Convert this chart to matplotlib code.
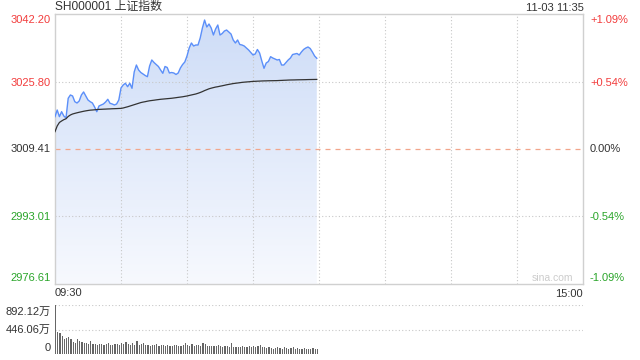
import numpy as np
import matplotlib
matplotlib.use("Agg")
import matplotlib.pyplot as plt
from matplotlib.patches import Polygon

plt.rcParams['font.family'] = ['Liberation Sans', 'Noto Sans CJK SC', 'DejaVu Sans']

title = "SH000001 上证指数"
timestamp = "11-03 11:35"
prev_close = 3009.41
y_ticks = [2976.61, 2993.01, 3009.41, 3025.80, 3042.20]
pct_labels = ["-1.09%", "-0.54%", "0.00%", "+0.54%", "+1.09%"]
vol_ticks = [0, 446.06, 892.12]
vol_labels = ["0", "446.06万", "892.12万"]
x_labels = ["09:30", "15:00"]

price = [
    3017.26, 3018.88, 3017.26, 3018.47, 3017.43, 3016.94, 3021.73, 3022.53, 3022.28, 3020.90,
    3020.58, 3021.07, 3022.53, 3023.26, 3022.28, 3021.31, 3020.90, 3020.58, 3019.61, 3018.47,
    3019.86, 3020.10, 3020.34, 3020.83, 3021.48, 3020.51, 3020.34, 3020.10, 3020.34, 3021.31,
    3024.23, 3024.96, 3025.37, 3024.54, 3025.37, 3024.15, 3028.11, 3029.81, 3028.60, 3027.99,
    3027.63, 3027.26, 3026.97, 3029.57, 3031.03, 3030.42, 3029.93, 3029.45, 3028.60, 3027.80,
    3029.45, 3029.21, 3027.87, 3027.99, 3027.87, 3027.51, 3027.87, 3029.09, 3029.93, 3030.54,
    3032.00, 3033.94, 3035.16, 3034.43, 3034.67, 3034.67, 3036.37, 3038.80, 3040.74, 3039.04,
    3039.77, 3038.80, 3037.10, 3038.56, 3039.53, 3037.10, 3037.46, 3038.07, 3038.31, 3037.83,
    3037.34, 3035.89, 3035.16, 3035.89, 3034.79, 3034.67, 3034.43, 3033.94, 3033.46, 3032.85,
    3032.24, 3032.49, 3033.58, 3032.73, 3030.79, 3029.01, 3030.30, 3030.66, 3031.83, 3031.51,
    3031.27, 3031.03, 3031.15, 3029.81, 3029.81, 3030.42, 3031.03, 3031.51, 3032.36, 3032.49,
    3032.61, 3032.24, 3032.97, 3033.58, 3033.94, 3034.19, 3033.82, 3032.97, 3032.00, 3031.44,
]

avg_price = [
    3013.61, 3015.00, 3015.85, 3016.21, 3016.53, 3016.75, 3017.31, 3017.67, 3017.91, 3018.06,
    3018.20, 3018.33, 3018.45, 3018.57, 3018.67, 3018.76, 3018.84, 3018.88, 3018.93, 3018.98,
    3019.03, 3019.05, 3019.08, 3019.10, 3019.13, 3019.15, 3019.18, 3019.20, 3019.22, 3019.25,
    3019.27, 3019.37, 3019.52, 3019.66, 3019.83, 3020.00, 3020.17, 3020.34, 3020.51, 3020.68,
    3020.80, 3020.90, 3021.02, 3021.12, 3021.19, 3021.26, 3021.34, 3021.41, 3021.48, 3021.53,
    3021.58, 3021.63, 3021.68, 3021.73, 3021.80, 3021.87, 3021.95, 3022.02, 3022.09, 3022.19,
    3022.28, 3022.41, 3022.53, 3022.65, 3022.77, 3022.94, 3023.13, 3023.35, 3023.60, 3023.81,
    3024.03, 3024.18, 3024.32, 3024.45, 3024.54, 3024.66, 3024.76, 3024.88, 3025.00, 3025.10,
    3025.20, 3025.30, 3025.37, 3025.44, 3025.51, 3025.59, 3025.64, 3025.69, 3025.73, 3025.78,
    3025.83, 3025.85, 3025.88, 3025.90, 3025.93, 3025.95, 3025.96, 3025.98, 3025.99, 3026.00,
    3026.01, 3026.02, 3026.05, 3026.07, 3026.10, 3026.12, 3026.15, 3026.17, 3026.18, 3026.19,
    3026.21, 3026.22, 3026.23, 3026.24, 3026.25, 3026.27, 3026.28, 3026.29, 3026.30, 3026.31,
]

volume = [
    892, 398, 375, 327, 268, 291, 303, 280, 220, 208,
    268, 244, 220, 208, 196, 190, 238, 178, 178, 172,
    184, 178, 161, 178, 196, 172, 161, 184, 178, 161,
    196, 184, 220, 178, 172, 208, 161, 238, 172, 184,
    196, 161, 172, 150, 161, 172, 184, 150, 161, 172,
    150, 161, 140, 150, 161, 172, 140, 150, 161, 196,
    172, 140, 178, 150, 161, 172, 140, 208, 184, 150,
    140, 150, 140, 150, 161, 140, 130, 150, 140, 130,
    208, 120, 130, 120, 130, 140, 120, 130, 140, 120,
    150, 130, 140, 172, 130, 120, 110, 120, 110, 100,
    110, 120, 110, 100, 120, 110, 100, 110, 120, 100,
    110, 100, 90, 110, 100, 90, 100, 110, 90, 100,
]

W, H = 640, 360
fig = plt.figure(figsize=(6.4, 3.6), dpi=100)
fig.patch.set_facecolor('white')

L, R = 55, 583
T1, B1 = 14, 284
T2, B2 = 305, 354

ax = fig.add_axes([L / W, 1 - B1 / H, (R - L) / W, (B1 - T1) / H])
axv = fig.add_axes([L / W, 1 - B2 / H, (R - L) / W, (B2 - T2) / H])

n_total = 240
x = np.arange(len(price))
ymin, ymax = y_ticks[0], y_ticks[-1]

# gradient fill under price
grad = np.linspace(0, 1, 256).reshape(-1, 1)
from matplotlib.colors import LinearSegmentedColormap
cmap = LinearSegmentedColormap.from_list('g', ['#f7f9fe', '#cddcf7'])
im = ax.imshow(grad, extent=[0, n_total, ymin, ymax], origin='lower', aspect='auto',
               cmap=cmap, zorder=1)
verts = [(x[0], ymin)] + list(zip(x, price)) + [(x[-1], ymin)]
poly = Polygon(verts, closed=True, facecolor='none', edgecolor='none')
ax.add_patch(poly)
im.set_clip_path(poly)

# grid
for xv in range(30, n_total, 30):
    ax.axvline(xv, color='#c8c8c8', lw=0.8, ls=(0, (1, 2)), zorder=2)
for yv in [y_ticks[1], y_ticks[3]]:
    ax.axhline(yv, color='#c8c8c8', lw=0.8, ls=(0, (1, 2)), zorder=2)
ax.axhline(prev_close, color='#f2a58a', lw=0.9, ls=(0, (4, 4)), zorder=2)

ax.plot(x, price, color='#5b8ff9', lw=1.0, zorder=4)
ax.plot(x, avg_price, color='#333333', lw=0.9, zorder=4)

ax.set_xlim(0, n_total)
ax.set_ylim(ymin, ymax)
ax.set_xticks([]); ax.set_yticks([])
for s in ax.spines.values():
    s.set_color('#d0d0d0'); s.set_linewidth(1.0)

# volume
axv.bar(np.arange(len(volume)), volume, width=0.55, color='#666666', align='edge', zorder=3)
axv.set_xlim(0, n_total)
axv.set_ylim(0, vol_ticks[-1])
for yv in vol_ticks[1:]:
    axv.axhline(yv, color='#c8c8c8', lw=0.8, ls=(0, (1, 2)), zorder=1)
axv.set_xticks([]); axv.set_yticks([])
for s in axv.spines.values():
    s.set_visible(False)

def ftext(px, py, s, **kw):
    fig.text(px / W, 1 - py / H, s, **kw)

fs = 8
red, green, black = '#f23c3c', '#2aa52a', '#333333'
ftext(L, 7, title, fontsize=8.6, color=black, ha='left', va='center')
ftext(R + 1, 8, timestamp, fontsize=fs, color=black, ha='right', va='center')

left_pos = [278, 217, 149, 83, 20]
for val, py, lab in zip(y_ticks, left_pos, pct_labels):
    c = red if val > prev_close else (green if val < prev_close else black)
    ftext(51, py, f"{val:.2f}", fontsize=fs, color=c, ha='right', va='center')
    ftext(590, py, lab, fontsize=fs, color=c, ha='left', va='center')

ftext(L, 293, x_labels[0], fontsize=fs, color=black, ha='left', va='center')
ftext(R, 294, x_labels[1], fontsize=fs, color=black, ha='right', va='center')
ftext(573, 278, "sina.com", fontsize=7.5, color='#cccccc', ha='right', va='center')

vol_pos = [348, 330, 312]
for py, lab in zip(vol_pos, vol_labels):
    ftext(51, py, lab, fontsize=fs, color=black, ha='right', va='center')

fig.savefig('out.png', dpi=100)
